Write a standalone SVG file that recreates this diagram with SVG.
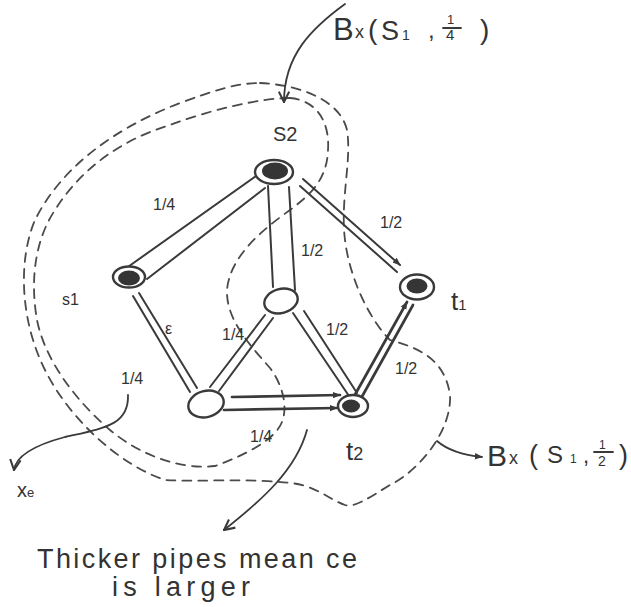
<svg xmlns="http://www.w3.org/2000/svg" width="631" height="607" viewBox="0 0 631 607">
<defs>
<style>
.ln{stroke:#3a3a3a;stroke-width:2;fill:none;stroke-linecap:round}
.thick{stroke-width:2.7}
.node{fill:#fff;stroke:#3a3a3a;stroke-width:2.4}
.core{fill:#353535}
.dash{fill:none;stroke:#4a4a4a;stroke-width:1.8;stroke-dasharray:9 7;stroke-linecap:round}
.ann{fill:none;stroke:#3a3a3a;stroke-width:1.8;stroke-linecap:round}
text{font-family:"Liberation Sans","DejaVu Sans",sans-serif;fill:#333}
.lbl{font-size:16px}
.nl{font-size:20px}
</style>
<marker id="open" viewBox="0 0 10 10" refX="9" refY="5" markerWidth="13" markerHeight="13" markerUnits="userSpaceOnUse" orient="auto"><path d="M1,1 L9,5 L1,9" fill="none" stroke="#3a3a3a" stroke-width="1.6"/></marker>
<marker id="tip" viewBox="0 0 10 10" refX="9" refY="5" markerWidth="8" markerHeight="8" markerUnits="userSpaceOnUse" orient="auto"><path d="M0,1 L10,5 L0,9 Z" fill="#3a3a3a"/></marker>
</defs>
<rect width="631" height="607" fill="#fff"/>

<g id="balls">
<path id="ball-quarter" class="dash" d="M290,98 C315,100 330,120 328,150 C327,180 310,195 290,210 C265,228 230,255 227,290 C226,320 250,345 270,368 C285,388 287,410 282,422 C275,440 245,455 215,466 C180,470 140,455 110,430 C75,400 45,360 37,320 C30,280 35,240 55,210 C80,170 120,140 170,125 C210,110 260,98 290,98 Z"/>
<path id="ball-half" class="dash" d="M260,83 C300,85 340,100 347,130 C352,160 340,200 345,240 C350,280 370,320 390,340 C420,348 445,360 450,395 C452,430 420,470 390,485 C370,497 355,508 345,505 C330,500 315,485 290,483 C250,478 200,482 165,480 C120,465 70,420 45,370 C20,320 18,260 35,220 C60,170 110,130 180,103 C210,92 235,83 260,83 Z"/>
</g>

<g id="connectors">
<g id="edge-s1-s2"><line class="ln" x1="125" y1="269" x2="256" y2="176"/><line class="ln" x1="147" y1="279" x2="265" y2="188"/></g>
<g id="edge-s2-c"><line class="ln" x1="268" y1="186" x2="273" y2="287"/><line class="ln" x1="289" y1="187" x2="295" y2="290"/></g>
<g id="edge-s2-t1"><line class="ln" x1="303" y1="179" x2="400" y2="265" marker-end="url(#tip)"/><line class="ln" x1="300" y1="186" x2="397" y2="272"/></g>
<g id="edge-t1-t2"><line class="ln thick" x1="352" y1="400" x2="407" y2="302" marker-end="url(#tip)"/><line class="ln thick" x1="359" y1="402" x2="413" y2="305"/></g>
<g id="edge-c-bl"><line class="ln" x1="265" y1="315" x2="210" y2="387"/><line class="ln" x1="273" y1="318" x2="219" y2="391"/></g>
<g id="edge-c-t2"><line class="ln" x1="293" y1="313" x2="349" y2="396"/><line class="ln" x1="304" y1="311" x2="357" y2="393"/></g>
<g id="edge-bl-t2"><line class="ln thick" x1="232" y1="397" x2="340" y2="395" marker-end="url(#tip)"/><line class="ln thick" x1="224" y1="410" x2="337" y2="408" marker-end="url(#tip)"/></g>
<g id="edge-s1-bl"><line class="ln" x1="133" y1="296" x2="190" y2="392"/><line class="ln" x1="139" y1="293" x2="197" y2="388"/></g>
</g>

<g id="node-s2"><ellipse class="node" cx="274" cy="172" rx="19" ry="12"/><ellipse class="core" cx="275" cy="171" rx="13" ry="8.5"/><text class="nl" x="273" y="141">S2</text></g>
<g id="node-s1"><ellipse class="node" cx="129" cy="277" rx="16" ry="10.5"/><ellipse class="core" cx="129" cy="278" rx="11" ry="7.5"/><text class="lbl" x="62" y="305" font-size="18">s1</text></g>
<g id="node-t1"><ellipse class="node" cx="417" cy="287" rx="17" ry="12.5"/><ellipse class="core" cx="417" cy="286" rx="10.5" ry="7.5"/><text x="451" y="310" font-size="26">t<tspan font-size="15">1</tspan></text></g>
<g id="node-c"><ellipse class="node" cx="281" cy="301" rx="17" ry="12" transform="rotate(-15 281 301)"/></g>
<g id="node-bl"><ellipse class="node" cx="206" cy="404" rx="18" ry="13" transform="rotate(-15 206 404)"/></g>
<g id="node-t2"><ellipse class="node" cx="353" cy="406" rx="15" ry="11"/><ellipse class="core" cx="351" cy="406" rx="9" ry="6.5"/><text x="346" y="460" font-size="26">t<tspan font-size="18">2</tspan></text></g>

<g id="edge-labels">
<text class="lbl" x="153" y="210">1/4</text>
<text class="lbl" x="301" y="256">1/2</text>
<text class="lbl" x="380" y="228">1/2</text>
<text class="lbl" x="326" y="335">1/2</text>
<text class="lbl" x="395" y="374">1/2</text>
<text class="lbl" x="222" y="340">1/4</text>
<text class="lbl" x="250" y="442">1/4</text>
<text class="lbl" x="165" y="334">ε</text>
<text class="lbl" x="121" y="384" font-size="18">1/4</text>
</g>

<g id="annotations">
<path class="ann" d="M345,4 C312,28 284,55 284,102" marker-end="url(#open)"/>
<text x="333" y="40" font-size="31">B</text>
<text x="355" y="38" font-size="18">x</text>
<text x="368" y="39" font-size="28">(</text>
<text x="381" y="40" font-size="27">S</text>
<text x="402" y="40" font-size="14">1</text>
<text x="428" y="38" font-size="24">,</text>
<text x="447" y="24" font-size="13">1</text>
<line class="ann" x1="443" y1="28" x2="461" y2="28"/>
<text x="446" y="40" font-size="15">4</text>
<text x="480" y="39" font-size="28">)</text>

<path class="ann" d="M437,441 Q452,454 482,457" marker-end="url(#tip)"/>
<text x="487" y="466" font-size="30">B</text>
<text x="509" y="464" font-size="18">x</text>
<text x="529" y="464" font-size="27">(</text>
<text x="547" y="463" font-size="24">S</text>
<text x="570" y="463" font-size="12">1</text>
<text x="583" y="463" font-size="22">,</text>
<text x="599" y="449" font-size="12">1</text>
<line class="ann" x1="594" y1="452" x2="613" y2="452"/>
<text x="598" y="466" font-size="14">2</text>
<text x="619" y="464" font-size="27">)</text>

<path class="ann" d="M128,395 C129,425 105,428 65,437 C35,445 16,455 14,470" marker-end="url(#open)"/>
<text x="17" y="497" font-size="20">x<tspan font-size="13">e</tspan></text>

<path class="ann" d="M307,430 C296,470 262,500 224,530" marker-end="url(#open)"/>
<text x="37" y="568" font-size="27" textLength="320" lengthAdjust="spacing">Thicker pipes mean ce</text>
<text x="112" y="596" font-size="27" textLength="138" lengthAdjust="spacing">is larger</text>
</g>
</svg>
